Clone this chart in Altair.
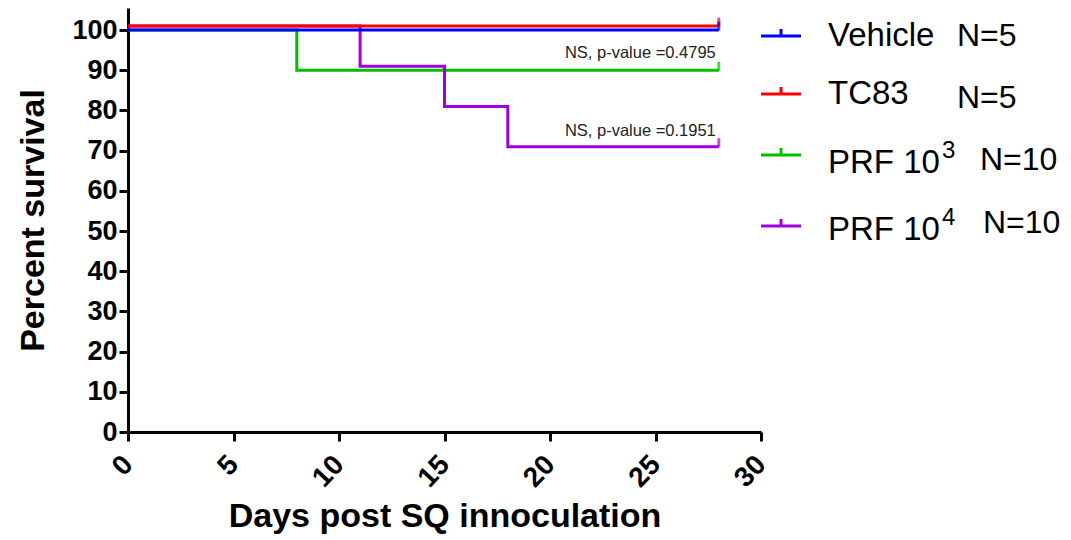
import altair as alt
import pandas as pd

# ---- data ----
series = ["Vehicle", "TC83", "PRF 10^3", "PRF 10^4"]
colors = ["#0000FF", "#FF0000", "#00C000", "#A000E0"]
n_labels = ["N=5", "N=5", "N=10", "N=10"]

vehicle_days = [0, 28]
vehicle_surv = [100, 100]
tc83_days = [0, 28]
tc83_surv = [100, 100]
prf3_days = [0, 8, 28]
prf3_surv = [100, 90, 90]
prf4_days = [0, 11, 15, 18, 28]
prf4_surv = [100, 90, 80, 70, 70]

annot_text = ["NS, p-value =0.4795", "NS, p-value =0.1951"]
annot_day = [28, 28]
annot_y = [94.3, 74.8]

x_ticks = [0, 5, 10, 15, 20, 25, 30]
y_ticks = [0, 10, 20, 30, 40, 50, 60, 70, 80, 90, 100]

FONT = "Arial, Liberation Sans"
W, H = 633, 424

xs = alt.Scale(domain=[0, 30], nice=False)
ys = alt.Scale(domain=[0, 105.5], nice=False)

x_axis = alt.Axis(values=x_ticks, title="Days post SQ innoculation", grid=False,
                  domainColor="black", domainWidth=3, tickColor="black", tickWidth=3,
                  tickSize=9, labelFont=FONT, labelFontSize=28, labelFontWeight="bold",
                  labelColor="black", labelAngle=313, labelAlign="right",
                  labelBaseline="middle", labelPadding=19,
                  titleFont=FONT, titleFontSize=34, titleFontWeight="bold",
                  titleColor="black", titleBaseline="alphabetic", titleY=94)
y_axis = alt.Axis(values=y_ticks, title="Percent survival", grid=False,
                  domainColor="black", domainWidth=3, tickColor="black", tickWidth=3,
                  tickSize=9, labelFont=FONT, labelFontSize=27, labelFontWeight="bold",
                  labelColor="black", labelPadding=2,
                  titleFont=FONT, titleFontSize=34, titleFontWeight="bold",
                  titleColor="black", titleBaseline="middle", titleX=-95)

XE = lambda f: alt.X(f, scale=xs, axis=x_axis)
YE = lambda f: alt.Y(f, scale=ys, axis=y_axis)

data_sets = [
    (vehicle_days, vehicle_surv, 0),
    (tc83_days, tc83_surv, -4),
    (prf3_days, prf3_surv, 0),
    (prf4_days, prf4_surv, -4),
]

layers = []
order = [2, 3, 1, 0]
for i in order:
    d, s, off = data_sets[i]
    df = pd.DataFrame({"day": d, "surv": s})
    line = alt.Chart(df).mark_line(interpolate="step-after", color=colors[i],
                                   strokeWidth=3, yOffset=off).encode(
        x=XE("day:Q"), y=YE("surv:Q"))
    end = alt.Chart(df.tail(1)).mark_tick(color=colors[i], orient="vertical",
                                          size=9, thickness=3,
                                          yOffset=off - 4).encode(
        x=XE("day:Q"), y=YE("surv:Q"))
    layers += [line, end]

annot = alt.Chart(pd.DataFrame({"t": annot_text, "d": annot_day, "s": annot_y})).mark_text(
    align="right", baseline="middle", font=FONT,
    fontSize=16.5, color="#222222", dx=-3).encode(
    x=XE("d:Q"), y=YE("s:Q"), text="t:N")
layers.append(annot)

# ---- custom legend ----
leg_line_y = [36, 94, 155, 226]
text_y = [36, 94, 163, 230]
base_labels = ["Vehicle", "TC83", "PRF 10", "PRF 10"]
sups = ["", "", "3", "4"]
sup_y = [0, 0, 151, 218]
n_x = [957, 957, 980, 983]
n_y = [36, 98, 160, 223]
sup_x = 942
dummy = pd.DataFrame({"a": [0]})
for i in range(4):
    yy = leg_line_y[i] - 8
    layers.append(alt.Chart(dummy).mark_rule(color=colors[i], strokeWidth=3).encode(
        x=alt.value(W + 0), x2=alt.value(W + 40), y=alt.value(yy)))
    layers.append(alt.Chart(dummy).mark_rule(color=colors[i], strokeWidth=3).encode(
        x=alt.value(W + 20), y=alt.value(yy - 7), y2=alt.value(yy)))
    layers.append(alt.Chart(dummy).mark_text(align="left", baseline="middle", font=FONT,
                                             fontSize=33, color="black").encode(
        x=alt.value(828 - 128), y=alt.value(text_y[i] - 8),
        text=alt.value(base_labels[i])))
    if sups[i]:
        layers.append(alt.Chart(dummy).mark_text(align="left", baseline="middle", font=FONT,
                                                 fontSize=24, color="black").encode(
            x=alt.value(sup_x - 128), y=alt.value(sup_y[i] - 8),
            text=alt.value(sups[i])))
    layers.append(alt.Chart(dummy).mark_text(align="left", baseline="middle", font=FONT,
                                             fontSize=32, color="black").encode(
        x=alt.value(n_x[i] - 128), y=alt.value(n_y[i] - 8),
        text=alt.value(n_labels[i])))

chart = alt.layer(*layers).properties(
    width=W, height=H,
    autosize=alt.AutoSizeParams(type="none"),
    padding={"left": 120, "top": 0, "right": 300, "bottom": 108},
    background="white",
).configure_view(stroke=None)

chart.save("out.html", embed_options={"renderer": "svg", "actions": False})
